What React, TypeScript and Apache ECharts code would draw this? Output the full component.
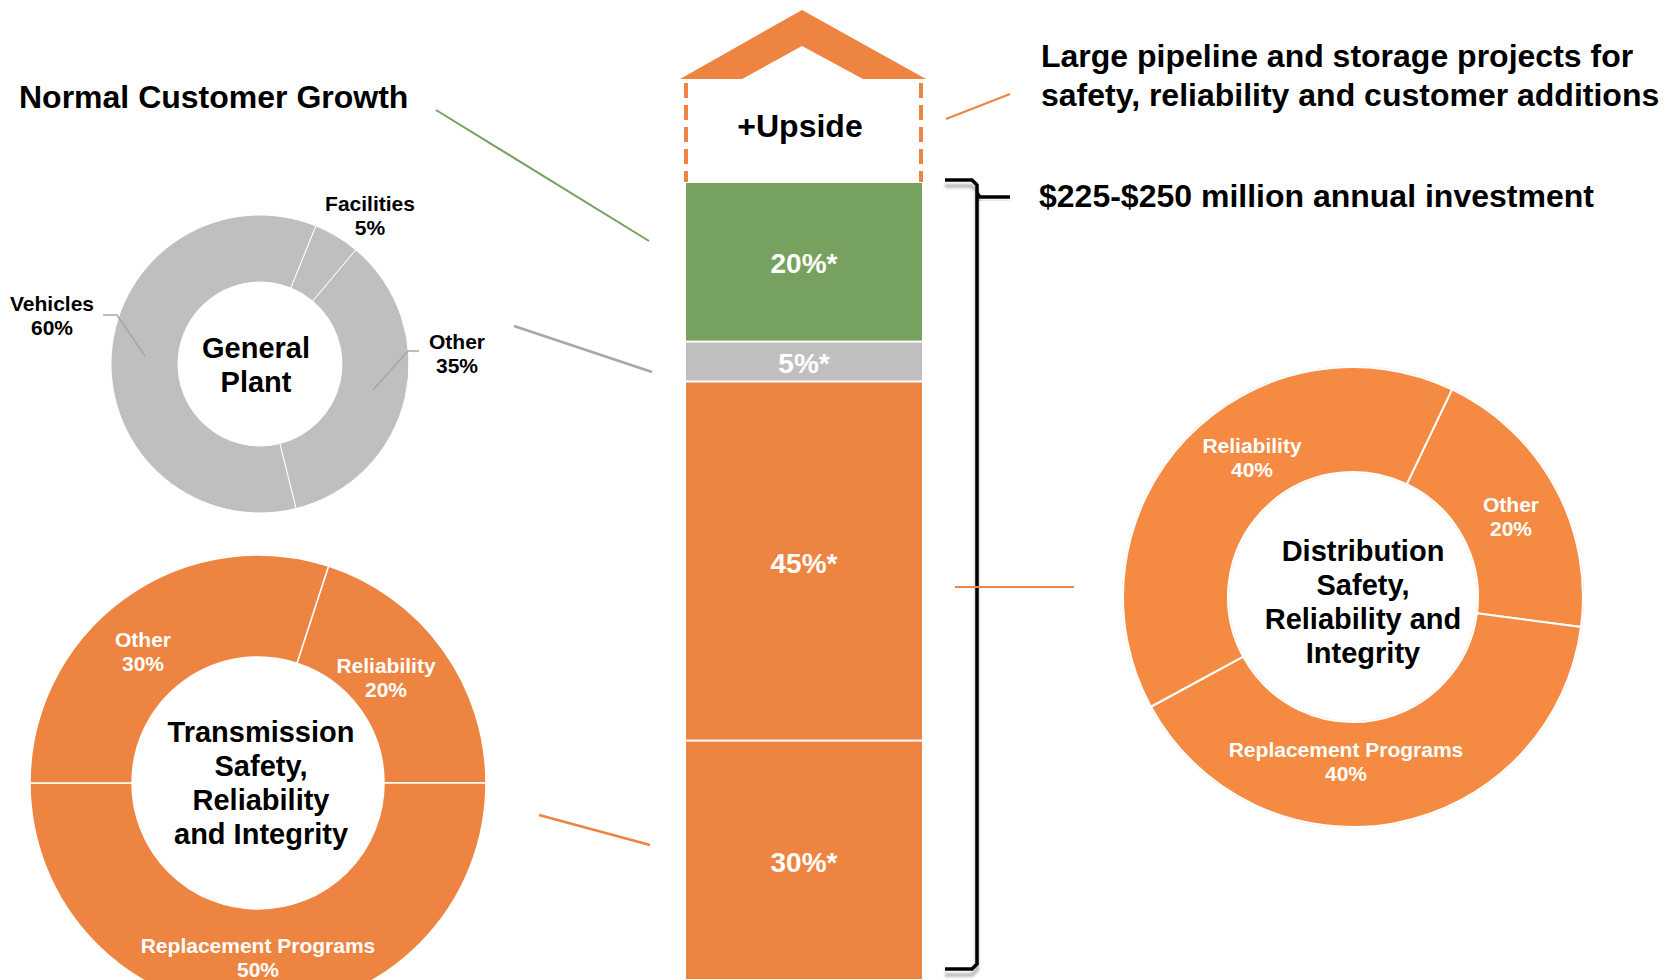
import React, { useEffect, useRef } from 'react';
import * as echarts from 'echarts';

// ---------- data ----------
const barCategories = ['Annual investment'];
const barSegmentNames = ['Transmission', 'Distribution', 'General Plant', 'Normal Customer Growth'];
const barValues = [30, 45, 5, 20];

const generalPlantNames = ['Facilities', 'Other', 'Vehicles'];
const generalPlantValues = [5, 35, 60];

const transmissionNames = ['Reliability', 'Replacement Programs', 'Other'];
const transmissionValues = [20, 50, 30];

const distributionNames = ['Other', 'Replacement Programs', 'Reliability'];
const distributionValues = [20, 40, 40];

// ---------- styling / layout ----------
const FONT = '"Liberation Sans", Arial, Helvetica, sans-serif';
const ORANGE = '#ee8441';
const ORANGE_D = '#f58a42';
const GREEN = '#77a15e';
const GRAY = '#bfbfbf';
const LINE_GRAY = '#a6a6a6';
const barColors = [ORANGE, ORANGE, GRAY, GREEN];

const gpLabelPos = [[370, 215], [457, 353], [52, 315]];
const gpLeaders = [
  [[373, 390], [408, 351], [419, 351]],
  [[145, 356], [117, 315], [103, 315]],
];
const trLabelPos = [[386, 677], [258, 957], [143, 651]];
const diLabelPos = [[1511, 516], [1346, 761], [1252, 457]];

function txt(x: number, y: number, text: string, size: number, align: string, fill = '#000', lineHeight?: number) {
  return {
    type: 'text',
    x,
    y,
    silent: true,
    style: {
      text,
      fill,
      fontSize: size,
      fontWeight: 'bold',
      fontFamily: FONT,
      align,
      verticalAlign: 'middle',
      textAlign: align,
      textVerticalAlign: 'middle',
      lineHeight: lineHeight || Math.round(size * 1.2),
    },
  };
}

function line(x1: number, y1: number, x2: number, y2: number, color: string, width: number) {
  return {
    type: 'line',
    silent: true,
    shape: { x1, y1, x2, y2 },
    style: { stroke: color, lineWidth: width },
  };
}

export default function App() {
  const ref = useRef<HTMLDivElement>(null);

  useEffect(() => {
    if (!ref.current) return;
    const chart = echarts.init(ref.current, undefined, { renderer: 'svg' });

    const pieLabelStyle = {
      color: '#fff',
      fontSize: 21,
      fontWeight: 'bold',
      fontFamily: FONT,
      lineHeight: 24,
      align: 'center',
    };

    const option: any = {
      animation: false,
      backgroundColor: '#ffffff',
      textStyle: { fontFamily: FONT },
      grid: { left: 685, top: 182, width: 238, height: 800, containLabel: false },
      xAxis: { type: 'category', data: barCategories, show: false },
      yAxis: { type: 'value', min: 0, max: 100, show: false },
      series: [
        ...barValues.map((v, i) => ({
          type: 'bar',
          name: barSegmentNames[i],
          stack: 'total',
          barWidth: '100%',
          data: [v],
          itemStyle: { color: barColors[i], borderColor: '#ffffff', borderWidth: 1 },
          label: {
            show: true,
            position: 'inside',
            formatter: '{c}%*',
            color: '#fff',
            fontSize: 28,
            fontWeight: 'bold',
            fontFamily: FONT,
            offset: [0, 2],
          },
          z: 2,
        })),
        {
          type: 'pie',
          name: 'General Plant',
          center: [260, 364],
          radius: [82, 149],
          startAngle: 68,
          avoidLabelOverlap: false,
          itemStyle: { color: GRAY, borderColor: '#fff', borderWidth: 1 },
          label: {
            show: true,
            position: 'outside',
            formatter: '{b}\n{c}%',
            color: '#000',
            fontSize: 21,
            fontWeight: 'bold',
            fontFamily: FONT,
            lineHeight: 24,
            align: 'center',
          },
          labelLine: { show: false },
          labelLayout: (p: any) => ({
            x: gpLabelPos[p.dataIndex][0],
            y: gpLabelPos[p.dataIndex][1],
            align: 'center',
            verticalAlign: 'middle',
          }),
          data: generalPlantNames.map((n, i) => ({ name: n, value: generalPlantValues[i] })),
        },
        {
          type: 'pie',
          name: 'Transmission',
          center: [258, 783],
          radius: [126, 228],
          startAngle: 72,
          avoidLabelOverlap: false,
          itemStyle: { color: ORANGE, borderColor: '#fff', borderWidth: 1.5 },
          label: { show: true, position: 'inside', formatter: '{b}\n{c}%', ...pieLabelStyle },
          labelLine: { show: false },
          labelLayout: (p: any) => ({
            x: trLabelPos[p.dataIndex][0],
            y: trLabelPos[p.dataIndex][1],
            align: 'center',
            verticalAlign: 'middle',
          }),
          data: transmissionNames.map((n, i) => ({ name: n, value: transmissionValues[i] })),
        },
        {
          type: 'pie',
          name: 'Distribution outline',
          center: [1353, 597],
          radius: [124, 231],
          silent: true,
          label: { show: false },
          labelLine: { show: false },
          itemStyle: { color: '#cfcfcf' },
          data: [{ name: 'outline', value: 1 }],
          z: 1,
        },
        {
          type: 'pie',
          name: 'Distribution',
          center: [1353, 597],
          radius: [125, 230],
          startAngle: 64.5,
          avoidLabelOverlap: false,
          itemStyle: { color: ORANGE_D, borderColor: '#fff', borderWidth: 2 },
          label: { show: true, position: 'inside', formatter: '{b}\n{c}%', ...pieLabelStyle },
          labelLine: { show: false },
          labelLayout: (p: any) => ({
            x: diLabelPos[p.dataIndex][0],
            y: diLabelPos[p.dataIndex][1],
            align: 'center',
            verticalAlign: 'middle',
          }),
          data: distributionNames.map((n, i) => ({ name: n, value: distributionValues[i] })),
          z: 3,
        },
      ],
      graphic: [
        // roof of the upside box
        {
          type: 'polygon',
          silent: true,
          shape: { points: [[680, 79], [802, 10], [926, 79], [863, 79], [802, 46], [742, 79]] },
          style: { fill: ORANGE },
        },
        // dashed sides of the upside box
        {
          type: 'line',
          silent: true,
          shape: { x1: 686, y1: 83, x2: 686, y2: 182 },
          style: { stroke: ORANGE, lineWidth: 4, lineDash: [15, 7] },
        },
        {
          type: 'line',
          silent: true,
          shape: { x1: 921, y1: 83, x2: 921, y2: 182 },
          style: { stroke: ORANGE, lineWidth: 4, lineDash: [15, 7] },
        },
        txt(800, 126, '+Upside', 32, 'center'),
        // bracket
        {
          type: 'polyline',
          silent: true,
          shape: { points: [[945, 180], [972, 180], [977, 185], [977, 964], [972, 969], [945, 969]] },
          style: {
            stroke: '#000',
            lineWidth: 3.5,
            fill: null,
            shadowColor: 'rgba(0,0,0,0.3)',
            shadowBlur: 3,
            shadowOffsetY: 6,
          },
        },
        {
          type: 'polyline',
          silent: true,
          shape: { points: [[977, 193], [980, 197], [1010, 197]] },
          style: {
            stroke: '#000',
            lineWidth: 3.5,
            fill: null,
            shadowColor: 'rgba(0,0,0,0.3)',
            shadowBlur: 3,
            shadowOffsetY: 6,
          },
        },
        // pie leader lines (General Plant)
        ...gpLeaders.map((pts) => ({
          type: 'polyline',
          silent: true,
          z: 100,
          shape: { points: pts },
          style: { stroke: LINE_GRAY, lineWidth: 1.5, fill: null },
        })),
        // connector lines
        line(436, 110, 649, 241, GREEN, 2),
        line(514, 326, 652, 372, LINE_GRAY, 2.5),
        line(539, 815, 650, 845, ORANGE, 2.5),
        line(946, 119, 1010, 94, ORANGE, 2),
        line(955, 587, 1074, 587, ORANGE, 2),
        // annotation texts
        txt(19, 97, 'Normal Customer Growth', 32, 'left'),
        txt(1041, 75, 'Large pipeline and storage projects for\nsafety, reliability and customer additions', 32, 'left', '#000', 39),
        txt(1039, 196, '$225-$250 million annual investment', 32, 'left'),
        // donut centre titles
        txt(256, 365, 'General\nPlant', 29, 'center', '#000', 34),
        txt(261, 783, 'Transmission\nSafety,\nReliability\nand Integrity', 29, 'center', '#000', 34),
        txt(1363, 602, 'Distribution\nSafety,\nReliability and\nIntegrity', 29, 'center', '#000', 34),
      ],
    };

    chart.setOption(option);
    return () => chart.dispose();
  }, []);

  return (
    <div
      ref={ref}
      style={{ position: 'fixed', left: 0, top: 0, width: 1671, height: 980, background: '#fff' }}
    />
  );
}
